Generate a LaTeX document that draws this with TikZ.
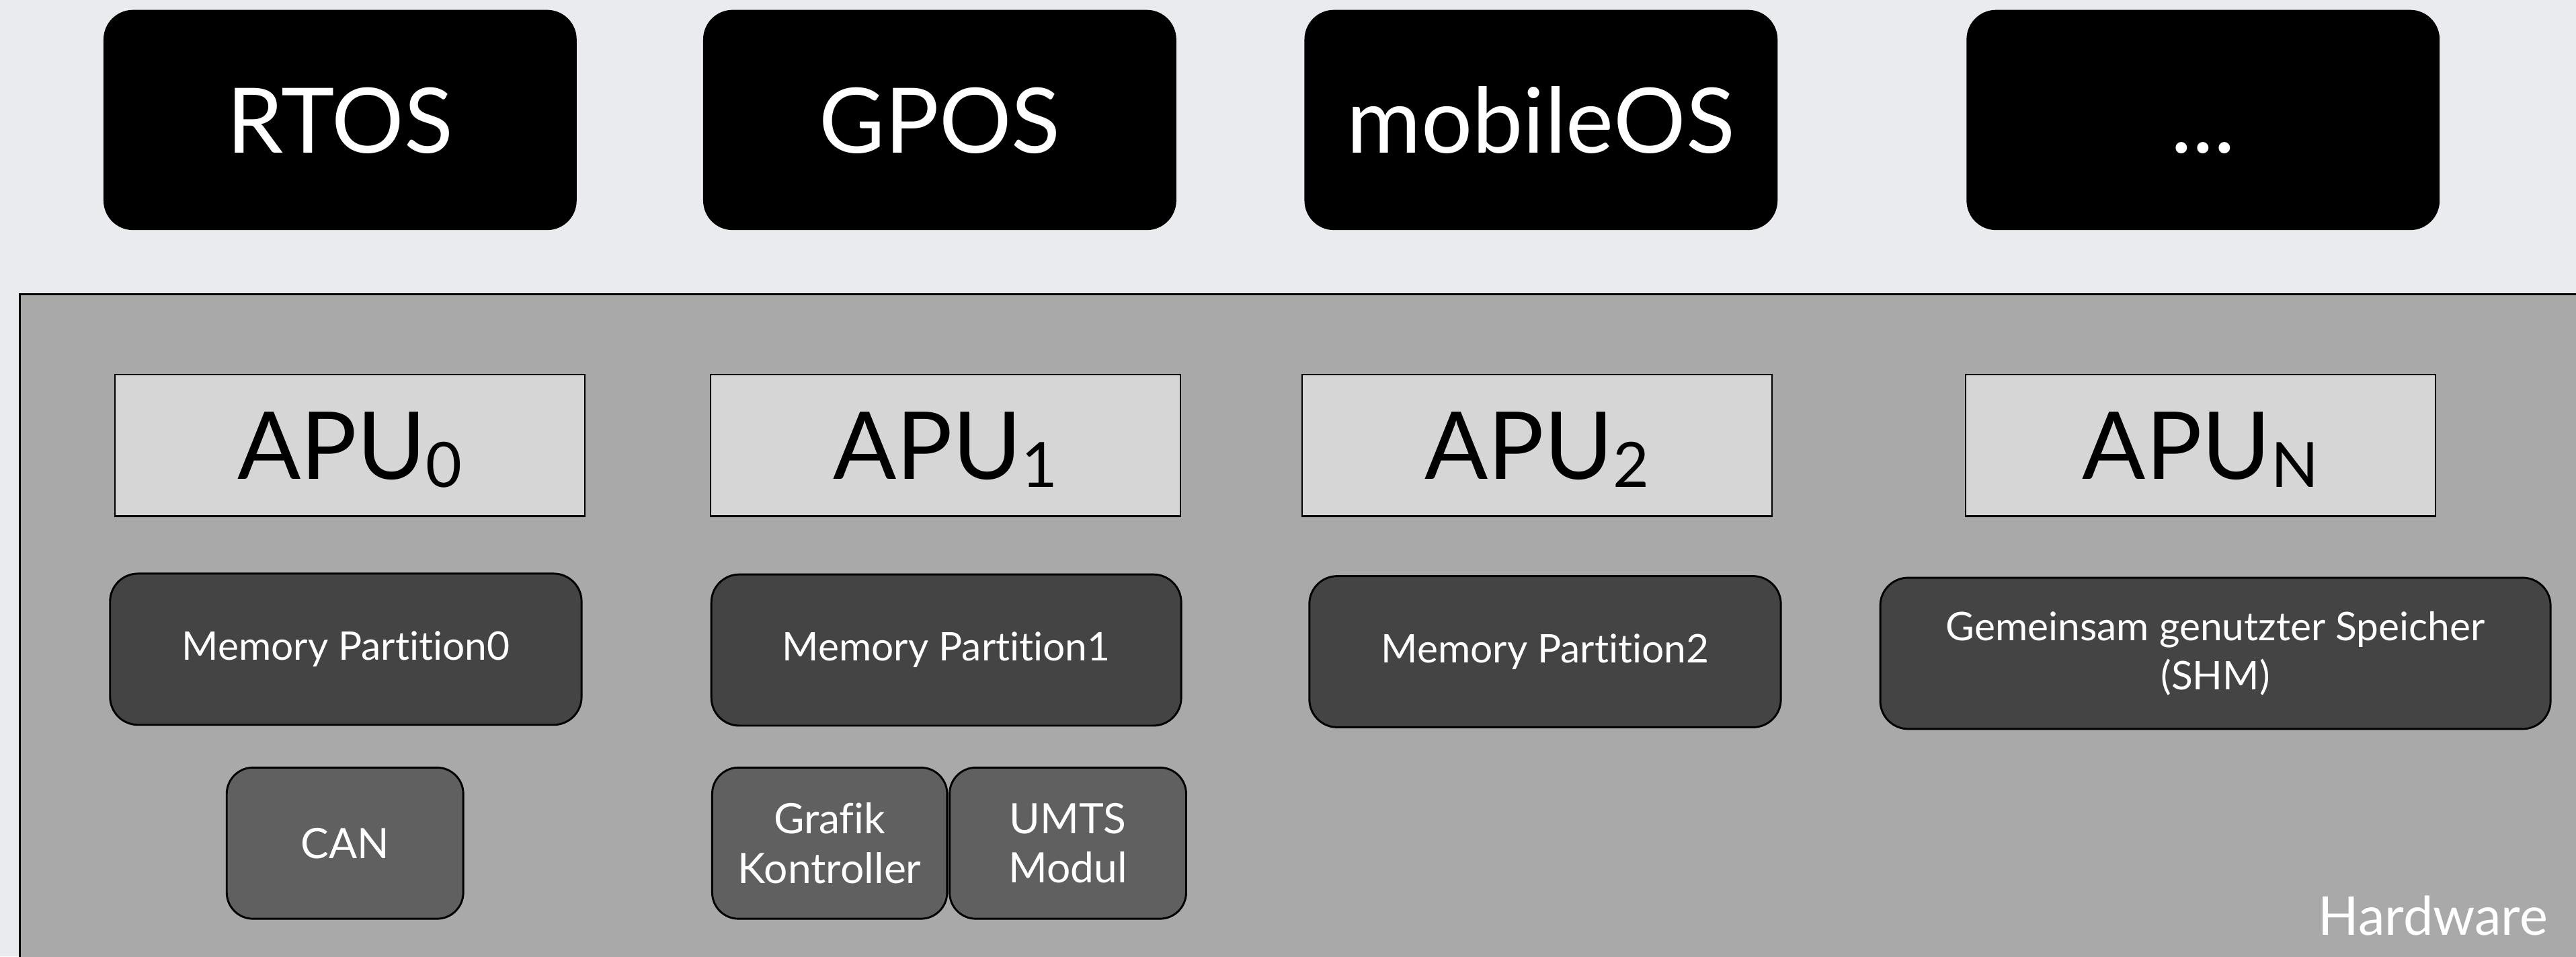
\documentclass[tikz,border=0pt]{standalone}
\usepackage{fontspec}
\setmainfont[Ligatures=NoCommon]{Lato}
\definecolor{bgc}{RGB}{233,235,239}
\definecolor{hwc}{RGB}{169,169,169}
\definecolor{apuc}{RGB}{214,214,214}
\definecolor{memc}{RGB}{68,68,68}
\definecolor{devc}{RGB}{96,96,96}
\newcommand{\apusub}[1]{\raisebox{-5pt}{\fontsize{38}{38}\selectfont #1}}
\tikzset{
  osbox/.style={fill=black, rounded corners=18pt, minimum width=288pt, minimum height=134pt,
    inner sep=0pt, text=white, font=\fontsize{55}{60}\selectfont, text height=40pt, text depth=0pt},
  hwbox/.style={fill=hwc, draw=black, line width=1.3pt, inner sep=0pt},
  apubox/.style={fill=apuc, draw=black, line width=1pt, minimum width=286pt, minimum height=86pt,
    inner sep=0pt, font=\fontsize{57}{60}\selectfont, text height=41pt, text depth=0pt},
  membox/.style={fill=memc, draw=black, line width=1.2pt, rounded corners=17pt, minimum height=92pt,
    inner sep=0pt, text=white, align=center, font=\fontsize{24}{30}\selectfont},
  devbox/.style={fill=devc, draw=black, line width=1.2pt, rounded corners=16pt, minimum width=144pt,
    minimum height=92pt, inner sep=0pt, text=white, align=center, font=\fontsize{25.5}{30}\selectfont},
  hwlabel/.style={text=white, inner sep=0pt, font=\fontsize{32.5}{36}\selectfont}
}
\begin{document}
\begin{tikzpicture}[x=1pt,y=-1pt]
\useasboundingbox (0,0) rectangle (1568,582);
\clip (0,0) rectangle (1568,582);
\fill[bgc] (0,0) rectangle (1568,582);
% operating systems
\node[osbox] (rtos) at (207,73) {RTOS};
\node[osbox] (gpos) at (572,73) {GPOS};
\node[osbox] (mobile) at (938,73) {mobileOS};
\node[osbox] (more) at (1341,73) {...};
% hardware
\node[hwbox, minimum width=1600pt, minimum height=440pt] (hw) at (812,399) {};
\node[hwlabel, anchor=base east] (hwtext) at (1551,569) {Hardware};
% APUs
\node[apubox] (apu0) at (213,271) {APU\apusub{0}};
\node[apubox] (apu1) at (575.5,271) {APU\apusub{1}};
\node[apubox] (apu2) at (935.5,271) {APU\apusub{2}};
\node[apubox] (apun) at (1339.5,271) {APU\apusub{N}};
% memory
\node[membox, minimum width=287pt] (mem0) at (210.5,395) {Memory Partition0};
\node[membox, minimum width=286pt] (mem1) at (576,395.5) {Memory Partition1};
\node[membox, minimum width=287pt] (mem2) at (940.5,396.5) {Memory Partition2};
\node[membox, minimum width=408pt] (shm) at (1348.5,397.5) {Gemeinsam genutzter Speicher\\(SHM)};
% devices
\node[devbox] (can) at (210,513) {CAN};
\node[devbox, minimum width=143pt] (gfx) at (505,513) {Grafik\\Kontroller};
\node[devbox] (umts) at (650,513) {UMTS\\Modul};
\end{tikzpicture}
\end{document}
